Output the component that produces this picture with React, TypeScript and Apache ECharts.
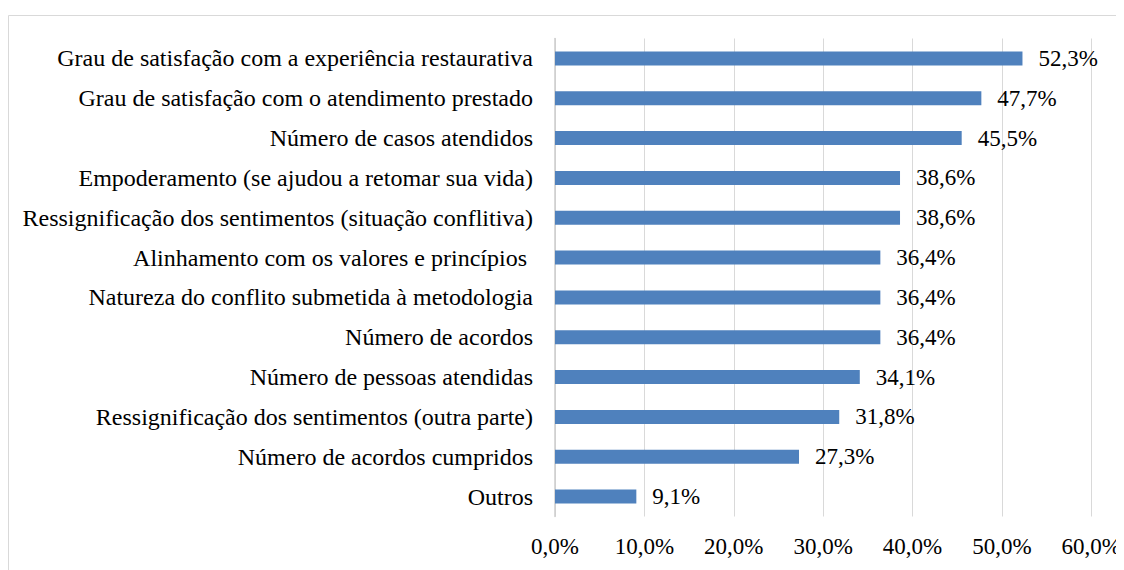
import React, { useEffect, useRef } from "react";
import * as echarts from "echarts";

const categories: string[] = [
  "Grau de satisfação com a experiência restaurativa",
  "Grau de satisfação com o atendimento prestado",
  "Número de casos atendidos",
  "Empoderamento (se ajudou a retomar sua vida)",
  "Ressignificação dos sentimentos (situação conflitiva)",
  "Alinhamento com os valores e princípios ",
  "Natureza do conflito submetida à metodologia",
  "Número de acordos",
  "Número de pessoas atendidas",
  "Ressignificação dos sentimentos (outra parte)",
  "Número de acordos cumpridos",
  "Outros",
];

const values: number[] = [52.3, 47.7, 45.5, 38.6, 38.6, 36.4, 36.4, 36.4, 34.1, 31.8, 27.3, 9.1];

const axisTicks: number[] = [0, 10, 20, 30, 40, 50, 60];

const FONT = "Liberation Serif";

export default function App() {
  const ref = useRef<HTMLDivElement>(null);
  useEffect(() => {
    if (!ref.current) return;
    const chart = echarts.init(ref.current, undefined, { renderer: "svg" });
    const fmt = (v: number) => v.toFixed(1).replace(".", ",") + "%";
    chart.setOption({
      animation: false,
      textStyle: { fontFamily: FONT },
      graphic: [
        {
          type: "rect",
          shape: { x: 0.5, y: 7.5, width: 1200, height: 600 },
          style: { fill: "none", stroke: "#d9d9d9", lineWidth: 1 },
          silent: true,
        },
      ],
      grid: { left: 547, right: 32, top: 30.5, bottom: 53.5, containLabel: false },
      xAxis: {
        type: "value",
        min: axisTicks[0],
        max: axisTicks[axisTicks.length - 1],
        interval: 10,
        axisLine: { show: false },
        axisTick: { show: false },
        splitLine: { show: true, lineStyle: { color: "#d9d9d9", width: 1 } },
        axisLabel: {
          formatter: (v: number) => fmt(v),
          color: "#000",
          fontFamily: FONT,
          fontSize: 23,
          margin: 18,
        },
      },
      yAxis: {
        type: "category",
        data: categories,
        inverse: true,
        axisLine: { show: true, lineStyle: { color: "#cccccc", width: 1.5 } },
        axisTick: { show: false },
        axisLabel: {
          color: "#000",
          fontFamily: FONT,
          fontSize: 24,
          margin: 22,
        },
      },
      series: [
        {
          type: "bar",
          data: values,
          barWidth: 14,
          itemStyle: { color: "#4f81bd" },
          label: {
            show: true,
            position: "right",
            distance: 16,
            formatter: (p: any) => fmt(p.value),
            color: "#000",
            fontFamily: FONT,
            fontSize: 23,
          },
        },
      ],
    });
    return () => chart.dispose();
  }, []);
  return <div ref={ref} style={{ width: 1116, height: 562 }} />;
}
